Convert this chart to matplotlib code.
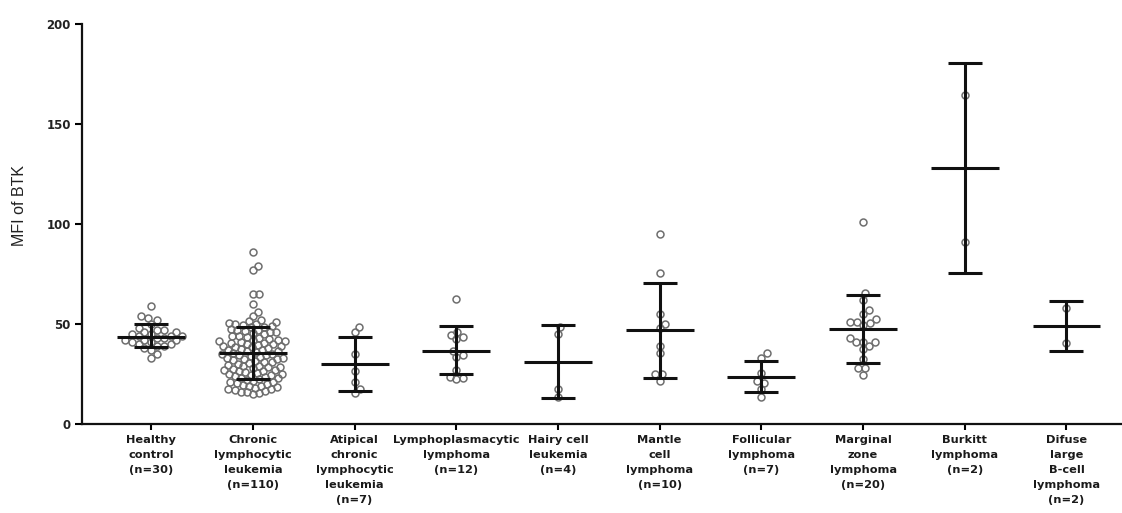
import matplotlib.pyplot as plt

groups = ["Healthy\ncontrol\n(n=30)", "Chronic\nlymphocytic\nleukemia\n(n=110)",
          "Atipical\nchronic\nlymphocytic\nleukemia\n(n=7)", "Lymphoplasmacytic\nlymphoma\n(n=12)",
          "Hairy cell\nleukemia\n(n=4)", "Mantle\ncell\nlymphoma\n(n=10)",
          "Follicular\nlymphoma\n(n=7)", "Marginal\nzone\nlymphoma\n(n=20)",
          "Burkitt\nlymphoma\n(n=2)", "Difuse\nlarge\nB-cell\nlymphoma\n(n=2)"]

healthy = [59, 54, 53, 52, 50, 48, 47, 47, 46, 46, 45, 45, 44, 44, 44,
           43, 43, 42, 42, 42, 41, 41, 40, 40, 39, 39, 38, 37, 35, 33]
cll = [86, 79, 77, 65, 65, 60, 56, 54, 52,
       51.5, 51, 50.5, 50, 50, 49.5, 49, 48.5, 48.5,
       47.5, 47, 47, 46.5, 46, 46, 45.5, 45,
       44, 44, 43.5, 43,
       42.5, 42, 42, 41.5, 41.5,
       41, 40.5, 40.5, 40, 40,
       39.5, 39, 39, 38.5, 38.5, 38,
       37.5, 37, 37, 36.5, 36.5, 36,
       35.5, 35, 35, 34.5, 34.5, 34,
       33.5, 33, 33, 32.5, 32.5, 32,
       31.5, 31, 31, 30.5, 30,
       29.5, 29, 29, 28.5, 28.5, 28,
       27.5, 27, 27, 26.5, 26.5, 26,
       25.5, 25, 25, 24.5, 24.5, 24,
       23.5, 23, 23, 22.5, 22,
       21.5, 21, 21, 20.5, 20,
       19.5, 19, 19, 18.5,
       18, 17.5, 17.5, 17,
       16.5, 16, 16, 15.5, 15]
atypical_cll = [48.5, 46, 35, 26.5, 21, 17.5, 15.5]
lymphoplasmacytic = [62.5, 46, 44.5, 43.7, 42.5, 36.7, 34.3, 33.7, 27, 23.7, 22.8, 22.3]
hairy_cell = [48.3, 45, 17.5, 13.3]
mantle_cell = [95, 75.3, 55, 50, 47.8, 39.2, 35.3, 25, 25, 21.7]
follicular = [35.3, 33.2, 25.7, 21.5, 20.7, 17.5, 13.3]
marginal_zone = [101.2, 65.3, 62, 57, 54.8, 52.3, 51, 50.8, 50.5, 49.5,
                 42.8, 41.2, 41.2, 41.2, 39, 37.3, 32.5, 27.8, 27.8, 24.5]
burkitt = [164.7, 90.8]
dlbcl = [57.8, 40.3]
values = [healthy, cll, atypical_cll, lymphoplasmacytic, hairy_cell,
          mantle_cell, follicular, marginal_zone, burkitt, dlbcl]

# mean and error bar ends
means = [43.5, 35.5, 30, 36.5, 31, 47, 23.7, 47.5, 127.8, 49.2]
upper = [49.8, 48.7, 43.3, 49, 49.5, 70.7, 31.5, 64.7, 180.3, 61.5]
lower = [38.3, 22.5, 16.7, 25, 12.8, 23.2, 16.2, 30.7, 75.3, 36.5]

XMIN, XMAX = -0.68, 9.546
fig = plt.figure(figsize=(11.22, 5.13), dpi=100)
ax = fig.add_axes([82 / 1122, 89 / 513, 1040 / 1122, 400 / 513])
ax.set_xlim(XMIN, XMAX)
ax.set_ylim(0, 200)
xpx = 1040 / (XMAX - XMIN)
ypx = 400 / 200


def swarm(vals, center, d=7.0):
    # simple beeswarm in pixel space, lowest values placed first
    order = sorted(range(len(vals)), key=lambda i: vals[i])
    placed = []
    offs = [0.0] * len(vals)
    for i in order:
        y = vals[i] * ypx
        cands = [0.0]
        for px, py in placed:
            dy = y - py
            if abs(dy) < d:
                dx = (d * d - dy * dy) ** 0.5
                cands += [px + dx, px - dx]
        cands.sort(key=abs)
        for c in cands:
            if all((c - px) ** 2 + (y - py) ** 2 >= d * d - 1e-6 for px, py in placed):
                break
        placed.append((c, y))
        offs[i] = c
    return [center + o / xpx for o in offs]


for i, vals in enumerate(values):
    xs = swarm(vals, i, d=6.3 if len(vals) > 50 else 7.0)
    ax.plot(xs, vals, "o", ms=5, mfc="none", mec="#6e6e6e", mew=1.1, zorder=2)

pos = list(range(len(groups)))
ax.hlines(means, [p - 0.334 for p in pos], [p + 0.334 for p in pos],
          colors="#111111", lw=2.2, zorder=3)
yerr = [[m - lo for m, lo in zip(means, lower)], [u - m for m, u in zip(means, upper)]]
ax.errorbar(pos, means, yerr=yerr, fmt="none", ecolor="#111111", elinewidth=2.2,
            capsize=12.2, capthick=2.2, zorder=3)

for s in ["top", "right"]:
    ax.spines[s].set_visible(False)
for s in ["left", "bottom"]:
    ax.spines[s].set_linewidth(1.6)
    ax.spines[s].set_color("#111111")

ax.set_yticks([0, 50, 100, 150, 200])
ax.set_xticks(pos)
ax.set_xticklabels(groups, fontsize=8.2, fontweight="bold", linespacing=1.62, color="#1a1a1a")
for lab in ax.get_yticklabels():
    lab.set_fontweight("bold")
ax.tick_params(axis="y", labelsize=8.5, length=5, width=1.5, pad=3, labelcolor="#222222")
ax.tick_params(axis="x", length=4, width=1.5, pad=4)

ax.set_ylabel("MFI of BTK", fontsize=11.5, family="Liberation Sans", color="#222222")
ax.yaxis.set_label_coords(-0.053, 0.5475)

fig.savefig("out.png", dpi=100)
plt.close(fig)
